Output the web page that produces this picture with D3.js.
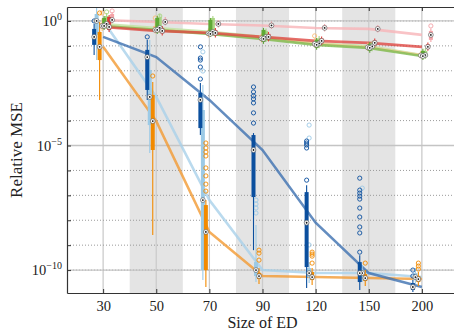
<!DOCTYPE html>
<html>
<head>
<meta charset="utf-8">
<script src="https://cdn.jsdelivr.net/npm/d3@7"></script>
<style>
body { margin: 0; background: #fff; }
text { font-family: "Liberation Serif", "DejaVu Serif", serif; fill: #222; }
</style>
</head>
<body>
<div id="chart"></div>
<script>
// sizes of ED on the x axis
var sizes = ["30", "50", "70", "90", "120", "150", "200"];
var decades = [0, -1, -2, -3, -4, -5, -6, -7, -8, -9, -10];
var majorDecades = [0, -5, -10];

// all values are log10(relative MSE); one row per size: [low whisker, q1, median, q3, high whisker]
var darkBlueBox = [
  [-1.37, -0.96, -0.64, -0.32, -0.12],
  [-3.17, -2.77, -1.45, -1.16, -0.76],
  [-4.58, -4.30, -3.17, -2.89, -2.49],
  [-9.20, -7.07, -5.18, -4.58, -4.50],
  [-10.72, -9.88, -8.10, -6.87, -6.59],
  [-10.80, -10.48, -10.12, -9.68, -9.40],
  [-10.88, -10.80, -10.68, -10.52, -10.40]
];
var darkBlueOut = [
  [0.0], [-0.64],
  [-1.04, -1.49, -1.57, -1.85, -2.33],
  [-2.65, -2.85, -3.01, -3.13, -3.29, -3.69, -4.10],
  [-4.82, -4.90, -4.98, -5.10, -6.39],
  [-6.31, -6.79, -6.91, -7.03, -7.15, -7.51, -7.87, -8.27, -8.51, -9.28],
  [-10.0, -10.24]
];
var lightBlueBox = [
  [-1.57, -0.56, 0.0, 0.28, 0.76],
  [-5.30, -4.18, -3.05, -1.97, -0.76],
  [-10.40, -10.0, -7.19, -3.57, -2.57],
  [-10.48, -10.24, -10.0, -9.68, -8.19],
  [-10.52, -10.28, -10.12, -9.92, -9.68],
  [-10.48, -10.28, -10.12, -10.0, -9.80],
  [-10.56, -10.40, -10.28, -10.12, -9.92]
];
var lightBlueOut = [
  [], [],
  [-1.24, -2.01],
  [-7.19, -7.35, -7.51, -7.71],
  [-4.18, -4.70, -8.99],
  [-6.71],
  []
];
var orangeBox = [
  [-3.17, -1.57, -1.04, -0.44, -0.04],
  [-8.59, -5.18, -4.02, -2.97, -2.45],
  [-10.68, -10.0, -8.47, -7.39, -7.19],
  [-10.56, -10.36, -10.24, -10.12, -9.92],
  [-10.60, -10.40, -10.28, -10.08, -9.92],
  [-10.64, -10.44, -10.32, -10.16, -10.0],
  [-10.64, -10.48, -10.36, -10.24, -10.08]
];
var orangeOut = [
  [0.32], [-2.21],
  [-4.90, -5.10, -5.26, -5.42, -5.90, -6.22, -6.55, -6.83],
  [-9.20, -9.32, -9.60],
  [-9.28, -9.36, -9.44, -9.72],
  [-9.72],
  [-9.72, -9.84, -9.96]
];
var lightOrangeBox = [
  [-0.40, -0.30, -0.20, -0.08, 0.10],
  [-0.50, -0.44, -0.36, -0.20, -0.06],
  [-0.66, -0.60, -0.50, -0.40, -0.30],
  [-0.86, -0.80, -0.70, -0.60, -0.50],
  [-1.06, -1.00, -0.92, -0.84, -0.70],
  [-1.20, -1.14, -1.06, -0.98, -0.88],
  [-1.50, -1.46, -1.38, -1.28, -1.20]
];
var lightOrangeOut = [[0.32], [0.12], [-0.48], [-0.64], [-0.60], [], []];
var greenBox = [
  [-0.36, -0.28, -0.20, 0.12, 0.20],
  [-0.52, -0.44, -0.36, 0.12, 0.20],
  [-0.64, -0.56, -0.52, 0.04, 0.12],
  [-0.92, -0.84, -0.72, -0.36, -0.28],
  [-1.16, -1.08, -0.96, -0.76, -0.68],
  [-1.28, -1.20, -1.08, -0.92, -0.84],
  [-1.57, -1.49, -1.41, -1.20, -1.12]
];
var greenOut = [[], [], [], [], [], [], []];
var lightGreenBox = [
  [-0.32, -0.24, -0.12, 0.20, 0.32],
  [-0.48, -0.40, -0.28, 0.16, 0.28],
  [-0.60, -0.52, -0.44, 0.12, 0.20],
  [-0.84, -0.76, -0.64, -0.40, -0.30],
  [-1.10, -1.02, -0.90, -0.70, -0.60],
  [-1.22, -1.14, -1.02, -0.88, -0.80],
  [-1.53, -1.45, -1.37, -1.20, -1.10]
];
var lightGreenOut = [[0.36], [0.20], [], [], [], [], []];
var redBox = [
  [-0.44, -0.36, -0.24, 0.16, 0.24],
  [-0.58, -0.50, -0.40, -0.28, -0.20],
  [-0.66, -0.58, -0.48, -0.36, -0.28],
  [-0.82, -0.74, -0.64, -0.52, -0.44],
  [-0.98, -0.90, -0.80, -0.70, -0.62],
  [-1.06, -0.98, -0.88, -0.78, -0.70],
  [-1.20, -1.12, -1.04, -0.94, -0.86]
];
var redOut = [[], [], [], [], [], [], []];
var pinkBox = [
  [-0.10, -0.04, 0.04, 0.28, 0.36],
  [-0.18, -0.12, -0.04, 0.08, 0.16],
  [-0.26, -0.20, -0.12, -0.02, 0.04],
  [-0.32, -0.26, -0.18, -0.08, -0.02],
  [-0.42, -0.36, -0.28, -0.18, -0.12],
  [-0.46, -0.40, -0.32, -0.22, -0.16],
  [-0.84, -0.76, -0.56, -0.40, -0.30]
];
var pinkOut = [[0.40], [], [], [], [], [], [-0.20]];

// drawing order: light series first
var series = [
  { box: pinkBox, out: pinkOut, color: "#f4a3a8", line: "#f7b4b8", dx: 9 },
  { box: lightGreenBox, out: lightGreenOut, color: "#a9d583", line: "#bfe39e", dx: 3.5 },
  { box: lightOrangeBox, out: lightOrangeOut, color: "#fbbd78", line: "#fcc994", dx: -1 },
  { box: lightBlueBox, out: lightBlueOut, color: "#9ccae6", line: "#a9d1ea", dx: -6.5 },
  { box: greenBox, out: greenOut, color: "#5fa935", line: "#7cbb52", dx: 1 },
  { box: redBox, out: redOut, color: "#e03a36", line: "#df4843", dx: 6 },
  { box: orangeBox, out: orangeOut, color: "#f28a00", line: "#f39a32", dx: -3.5 },
  { box: darkBlueBox, out: darkBlueOut, color: "#0b4f9e", line: "#3d70b0", dx: -9 }
];

var W = 454, H = 330;
var pL = 67, pT = 7, pB = 293, pR = 458;
var p = function (e) { return Math.pow(10, e); };

var svg = d3.select("#chart").append("svg").attr("width", W).attr("height", H);

var x = d3.scaleLinear().domain([-0.68, 6.68]).range([pL, pR]);
var y = d3.scaleLog().domain([p(0.56), p(-10.92)]).range([pT, pB]);

svg.append("clipPath").attr("id", "clip").append("rect")
  .attr("x", pL).attr("y", pT).attr("width", pR - pL).attr("height", pB - pT);

var plot = svg.append("g").attr("clip-path", "url(#clip)");

// shaded bands on every other size
plot.selectAll("rect.band").data([1, 3, 5]).enter().append("rect")
  .attr("class", "band")
  .attr("x", function (d) { return x(d - 0.5); })
  .attr("width", x(1) - x(0))
  .attr("y", pT).attr("height", pB - pT)
  .attr("fill", "#e4e4e4");

// grid
plot.selectAll("line.vgrid").data(d3.range(sizes.length)).enter().append("line")
  .attr("x1", function (d) { return x(d); }).attr("x2", function (d) { return x(d); })
  .attr("y1", pT).attr("y2", pB)
  .attr("stroke", "#cbcbcb").attr("stroke-width", 1.3);
plot.selectAll("line.minor").data(decades).enter().append("line")
  .attr("x1", pL).attr("x2", pR)
  .attr("y1", function (d) { return y(p(d)); }).attr("y2", function (d) { return y(p(d)); })
  .attr("stroke", "#9a9a9a").attr("stroke-width", 1).attr("stroke-dasharray", "1,2");
plot.selectAll("line.major").data(majorDecades).enter().append("line")
  .attr("x1", pL).attr("x2", pR)
  .attr("y1", function (d) { return y(p(d)); }).attr("y2", function (d) { return y(p(d)); })
  .attr("stroke", "#c4c4c4").attr("stroke-width", 1.3);

// median lines
var medLine = d3.line()
  .x(function (d, i) { return x(i); })
  .y(function (d) { return y(p(d[2])); });
series.forEach(function (s) {
  plot.append("path").datum(s.box)
    .attr("d", medLine)
    .attr("fill", "none")
    .attr("stroke", s.line)
    .attr("stroke-width", 2.6)
    .attr("stroke-opacity", 0.8);
});

// boxes
series.forEach(function (s) {
  var g = plot.append("g");
  s.box.forEach(function (b, i) {
    var cx = x(i) + s.dx;
    g.append("line").attr("x1", cx).attr("x2", cx)
      .attr("y1", y(p(b[0]))).attr("y2", y(p(b[4])))
      .attr("stroke", s.color).attr("stroke-width", 1.1);
    g.append("line").attr("x1", cx).attr("x2", cx)
      .attr("y1", y(p(b[1]))).attr("y2", y(p(b[3])))
      .attr("stroke", s.color).attr("stroke-width", 4);
    s.out[i].forEach(function (o) {
      g.append("circle").attr("cx", cx).attr("cy", y(p(o))).attr("r", 2.1)
        .attr("fill", "none").attr("stroke", s.color).attr("stroke-width", 0.9);
    });
  });
});

// median markers
series.forEach(function (s) {
  s.box.forEach(function (b, i) {
    var cx = x(i) + s.dx, cy = y(p(b[2]));
    plot.append("circle").attr("cx", cx).attr("cy", cy).attr("r", 2.4)
      .attr("fill", "#fff").attr("stroke", "#666").attr("stroke-width", 0.7);
    plot.append("circle").attr("cx", cx).attr("cy", cy).attr("r", 0.9).attr("fill", "#111");
  });
});

// axes
var xBottom = d3.axisBottom(x).tickValues(d3.range(sizes.length))
  .tickFormat(function (i) { return sizes[i]; }).tickSizeInner(-4).tickSizeOuter(0).tickPadding(8);
var xTop = d3.axisTop(x).tickValues(d3.range(sizes.length))
  .tickFormat("").tickSizeInner(-4).tickSizeOuter(0);
var yLeft = d3.axisLeft(y).tickValues(decades.map(p))
  .tickFormat("").tickSizeInner(-4).tickSizeOuter(0);

var gx = svg.append("g").attr("transform", "translate(0," + pB + ")").call(xBottom);
gx.selectAll("text").attr("font-size", 14.5).attr("font-family", "Liberation Serif").attr("fill", "#222");
svg.append("g").attr("transform", "translate(0," + pT + ")").call(xTop);
svg.append("g").attr("transform", "translate(" + pL + ",0)").call(yLeft);
svg.selectAll(".domain").attr("stroke", "#333").attr("stroke-width", 1.2);
svg.selectAll(".tick line").attr("stroke", "#333").attr("stroke-width", 1);

// y tick labels 10^k
majorDecades.forEach(function (d) {
  var t = svg.append("text").attr("x", 62).attr("y", y(p(d)) + 5)
    .attr("text-anchor", "end").attr("font-size", 14.5);
  t.append("tspan").text("10");
  t.append("tspan").attr("dy", -6).attr("font-size", 10)
    .text(d === 0 ? "0" : "\u2212" + (-d));
});

svg.append("text").attr("x", (pL + pR) / 2).attr("y", 328)
  .attr("text-anchor", "middle").attr("font-size", 16).text("Size of ED");
svg.append("text").attr("transform", "translate(22,150) rotate(-90)")
  .attr("text-anchor", "middle").attr("font-size", 17).text("Relative MSE");
</script>
</body>
</html>
